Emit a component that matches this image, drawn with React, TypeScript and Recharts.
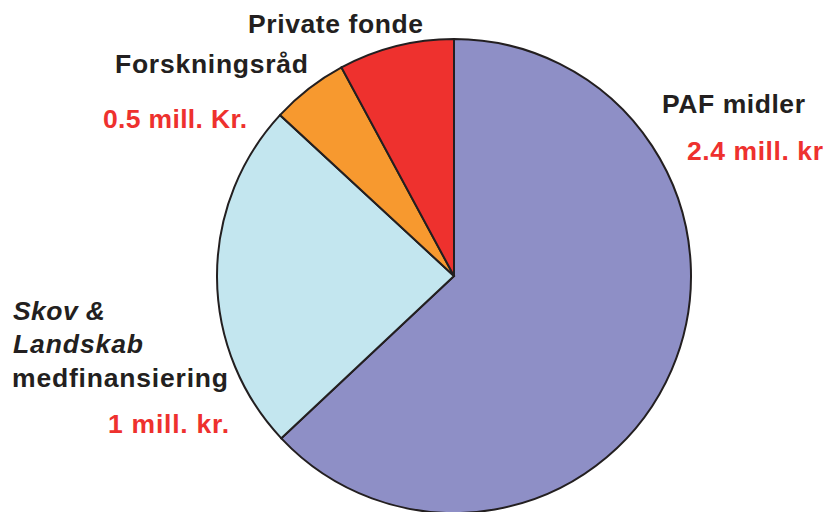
import React from "react";
import { PieChart, Pie, Cell } from "recharts";

const categories = ["PAF midler", "Skov & Landskab medfinansiering", "Forskningsråd", "Private fonde"];
const values = [2.4, 0.91, 0.2, 0.3];
const colors = ["#8E8FC6", "#C3E6EF", "#F7992F", "#EE312E"];

const data = categories.map((name, i) => ({ name, value: values[i] }));

const dark = "#231F20";
const red = "#EE312E";
const font = "'Liberation Sans', Arial, Helvetica, sans-serif";

type Lbl = { text: string; x: number; y: number; color: string; italic?: boolean; len: number };
const labels: Lbl[] = [
  { text: "Private fonde", x: 248, y: 33, color: dark, len: 175 },
  { text: "Forskningsråd", x: 115, y: 73, color: dark, len: 193 },
  { text: "0.5 mill. Kr.", x: 103, y: 128, color: red, len: 144 },
  { text: "PAF midler", x: 662, y: 113, color: dark, len: 143 },
  { text: "2.4 mill. kr", x: 687, y: 160, color: red, len: 136 },
  { text: "Skov &", x: 13, y: 320, color: dark, italic: true, len: 92 },
  { text: "Landskab", x: 13, y: 353, color: dark, italic: true, len: 130 },
  { text: "medfinansiering", x: 12, y: 387, color: dark, len: 216 },
  { text: "1 mill. kr.", x: 108, y: 433, color: red, len: 121 },
];

export default function App() {
  return (
    <div style={{ position: "absolute", left: 0, top: 0, width: 833, height: 512, background: "#fff", overflow: "hidden" }}>
      <PieChart width={833} height={512} margin={{ top: 0, right: 0, bottom: 0, left: 0 }}>
        <Pie
          data={data}
          dataKey="value"
          nameKey="name"
          cx={454}
          cy={276}
          outerRadius={237}
          startAngle={90}
          endAngle={-270}
          stroke={dark}
          strokeWidth={2}
          isAnimationActive={false}
        >
          {data.map((d, i) => (
            <Cell key={d.name} fill={colors[i]} />
          ))}
        </Pie>
      </PieChart>
      <svg width={833} height={512} style={{ position: "absolute", left: 0, top: 0, pointerEvents: "none" }}>
        {labels.map((l) => (
          <text
            key={l.text}
            x={l.x}
            y={l.y}
            fill={l.color}
            fontFamily={font}
            fontWeight="bold"
            fontStyle={l.italic ? "italic" : "normal"}
            fontSize={26.5}
            textLength={l.len}
            lengthAdjust="spacing"
          >
            {l.text}
          </text>
        ))}
      </svg>
    </div>
  );
}
